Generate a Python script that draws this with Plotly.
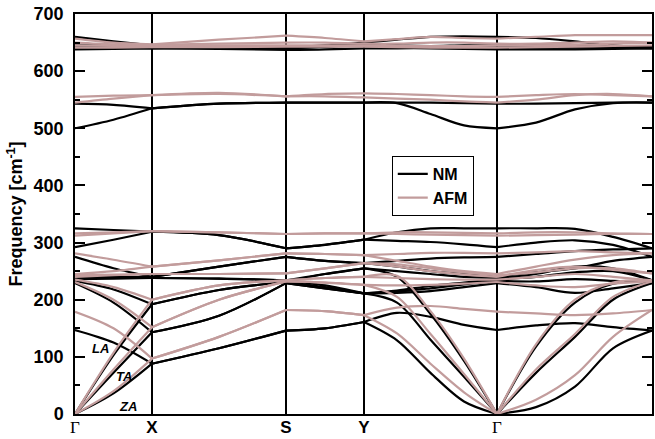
import plotly.graph_objects as go

# high-symmetry path (distance along path) and labels
sym_k = [0, 77, 211, 289, 422, 577]
sym_labels = ['<span style="font-family:Liberation Serif;font-weight:normal">Γ</span>', 'X', 'S', 'Y',
              '<span style="font-family:Liberation Serif;font-weight:normal">Γ</span>', 'S']

# sample nodes along the path: Γ, mid, X, mid, S, mid, Y, 3 interior, Γ, 3 interior, S
kpath = [0, 38.5, 77, 144, 211, 250, 289, 322, 355.5, 389, 422, 461, 500, 538, 577]
seg_bounds = [0, 2, 4, 6, 10, 14]

# NM phonon bands (cm^-1) at kpath nodes
nm_za = [0, 36, 88, 115, 146, 150, 161, 129, 72, 22, 0, 12, 48, 115, 146]
nm_o147 = [147, 125, 88, 115, 146, 150, 161, 177, 170, 156, 147, 155, 159, 152, 146]
nm_ta = [0, 72, 143, 172, 229, 220, 211, 195, 130, 65, 0, 72, 135, 200, 229]
nm_o229 = [229, 195, 143, 172, 229, 220, 211, 212, 215, 222, 229, 222, 212, 220, 229]
nm_la = [0, 103, 192, 217, 231, 245, 255, 240, 175, 93, 0, 118, 195, 228, 231]
nm_o233 = [233, 218, 192, 217, 231, 222, 211, 214, 220, 227, 233, 232, 236, 233, 231]
nm_o236 = [236, 237, 238, 237, 234, 225, 211, 216, 224, 230, 236, 240, 248, 250, 234]
nm_o238 = [238, 238, 238, 237, 234, 245, 255, 250, 245, 240, 238, 245, 258, 255, 234]
nm_o241 = [241, 240, 240, 258, 275, 268, 264, 258, 250, 245, 241, 248, 255, 268, 275]
nm_o275 = [275, 255, 240, 258, 275, 268, 264, 268, 272, 274, 275, 280, 285, 288, 290]
nm_o292 = [292, 305, 319, 313, 290, 296, 305, 303, 301, 297, 292, 300, 304, 296, 275]
nm_o325 = [325, 322, 319, 313, 290, 296, 305, 318, 325, 325, 325, 325, 324, 310, 290]
nm_u500 = [500, 515, 535, 543, 545, 545, 545, 544, 525, 505, 500, 510, 533, 544, 545]
nm_u543 = [543, 541, 535, 543, 545, 545, 545, 545, 545, 544, 543, 543, 544, 545, 545]
nm_u638 = [638, 639, 640, 639, 637, 638, 640, 640, 640, 639, 638, 638, 638, 639, 640]
nm_u641 = [641, 641, 640, 641, 640, 643, 645, 643, 642, 641, 641, 641, 641, 641, 640]
nm_u645 = [645, 645, 645, 643, 640, 643, 647, 645, 644, 645, 645, 645, 644, 642, 641]
nm_u660 = [660, 652, 645, 643, 641, 645, 650, 655, 660, 661, 660, 658, 652, 645, 642]

# AFM phonon bands (cm^-1)
afm_za = [0, 40, 97, 135, 182, 180, 173, 141, 88, 38, 0, 25, 68, 135, 182]
afm_o179 = [179, 150, 97, 135, 182, 180, 173, 186, 189, 184, 179, 176, 173, 176, 182]
afm_ta = [0, 78, 152, 200, 232, 230, 226, 205, 140, 70, 0, 78, 140, 205, 232]
afm_o231 = [231, 200, 152, 200, 232, 230, 226, 225, 226, 228, 231, 225, 222, 228, 232]
afm_la = [0, 107, 200, 225, 234, 238, 240, 242, 180, 97, 0, 122, 200, 230, 234]
afm_o235 = [235, 222, 200, 225, 234, 238, 240, 238, 236, 235, 235, 240, 245, 240, 234]
afm_o240 = [240, 243, 245, 245, 246, 255, 264, 258, 250, 244, 240, 252, 258, 252, 246]
afm_o243 = [243, 244, 245, 245, 246, 255, 264, 262, 255, 248, 243, 248, 255, 255, 246]
afm_o245 = [245, 250, 258, 269, 281, 280, 278, 268, 258, 250, 245, 258, 270, 278, 281]
afm_o281 = [281, 270, 258, 269, 281, 280, 278, 280, 282, 282, 281, 283, 285, 283, 281]
afm_o312 = [312, 316, 320, 318, 315, 316, 316, 315, 314, 313, 312, 313, 314, 315, 315]
afm_o316 = [316, 318, 320, 318, 315, 316, 316, 318, 318, 317, 316, 318, 318, 316, 315]
afm_u545 = [545, 552, 558, 562, 556, 556, 554, 552, 550, 547, 545, 550, 558, 560, 556]
afm_u555 = [555, 557, 558, 560, 556, 560, 561, 560, 558, 556, 555, 558, 560, 558, 556]
afm_u641 = [641, 641, 642, 642, 643, 643, 643, 642, 641, 641, 641, 642, 643, 644, 645]
afm_u645 = [645, 644, 644, 645, 645, 645, 645, 644, 644, 644, 645, 645, 646, 648, 650]
afm_u650 = [650, 647, 646, 648, 650, 650, 648, 648, 650, 650, 648, 648, 650, 652, 650]
afm_u657 = [657, 650, 647, 655, 662, 658, 652, 656, 660, 658, 657, 660, 663, 663, 663]

nm_bands = [nm_za, nm_o147, nm_ta, nm_o229, nm_la, nm_o233, nm_o236, nm_o238, nm_o241,
            nm_o275, nm_o292, nm_o325, nm_u500, nm_u543, nm_u638, nm_u641, nm_u645, nm_u660]
afm_bands = [afm_za, afm_o179, afm_ta, afm_o231, afm_la, afm_o235, afm_o240, afm_o243, afm_o245,
             afm_o281, afm_o312, afm_o316, afm_u545, afm_u555, afm_u641, afm_u645, afm_u650, afm_u657]


def build(bands):
    xs, ys = [], []
    for b in bands:
        for a, e in zip(seg_bounds[:-1], seg_bounds[1:]):
            xs += kpath[a:e + 1] + [None]
            ys += b[a:e + 1] + [None]
    return xs, ys


fig = go.Figure()
x1, y1 = build(nm_bands)
fig.add_trace(go.Scatter(x=x1, y=y1, mode='lines', name='NM',
                         line=dict(color='black', width=2.2, shape='spline', smoothing=0.9),
                         connectgaps=False))
x2, y2 = build(afm_bands)
fig.add_trace(go.Scatter(x=x2, y=y2, mode='lines', name='AFM',
                         line=dict(color='#c29c9c', width=2.2, shape='spline', smoothing=0.9),
                         connectgaps=False))

font_b = dict(family='Liberation Sans, Arial', size=18, color='black', weight='bold')
font_lab = dict(family='Liberation Sans, Arial', size=13, color='black')

fig.add_annotation(x=25, y=114, text='<b><i>LA</i></b>', showarrow=False, font=font_lab)
fig.add_annotation(x=49, y=65, text='<b><i>TA</i></b>', showarrow=False, font=font_lab)
fig.add_annotation(x=53, y=13, text='<b><i>ZA</i></b>', showarrow=False, font=font_lab)

fig.update_layout(
    width=655, height=439,
    margin=dict(l=75, r=3, t=14, b=25),
    paper_bgcolor='white', plot_bgcolor='white',
    showlegend=True,
    legend=dict(x=0.549, y=0.645, xanchor='left', yanchor='top',
                bordercolor='black', borderwidth=1, bgcolor='white',
                font=dict(family='Liberation Sans, Arial', size=16, color='black', weight='bold'),
                tracegroupgap=0, itemwidth=30),
    xaxis=dict(range=[0, 577], tickmode='array', tickvals=sym_k, ticktext=sym_labels,
               showgrid=True, gridcolor='black', gridwidth=1.5, zeroline=False,
               showline=True, linecolor='black', linewidth=1.5, mirror=True, automargin=False,
               ticks='', ticklabelstandoff=-3,
               tickfont=dict(family='Liberation Sans, Arial', size=17, color='black', weight='bold')),
    yaxis=dict(range=[0, 700], tickmode='linear', tick0=0, dtick=100,
               showgrid=False, zeroline=False, automargin=False,
               showline=True, linecolor='black', linewidth=1.5, mirror='ticks',
               ticks='inside', ticklen=10, tickwidth=1.5, tickcolor='black',
               minor=dict(ticks='inside', ticklen=5, tickwidth=1.5, dtick=50, tickcolor='black'),
               tickfont=font_b, ticklabelstandoff=6,
               title=dict(text='Frequency [cm<sup>-1</sup>]', font=font_b, standoff=6)),
)

fig.write_html('out.html')
